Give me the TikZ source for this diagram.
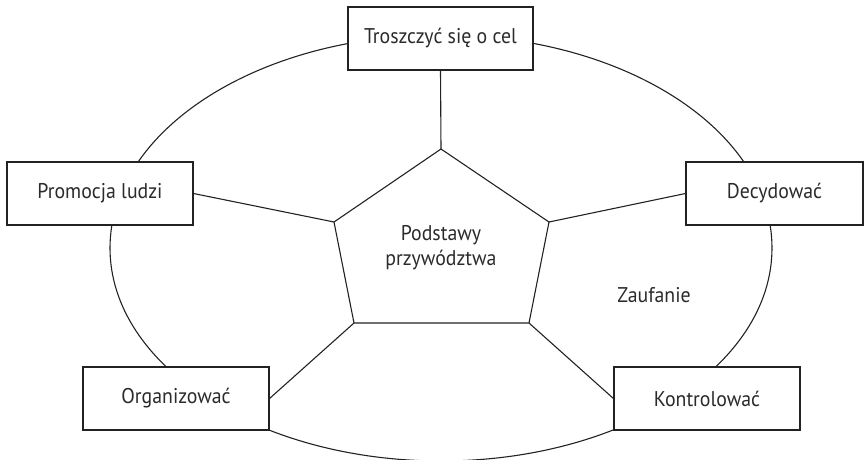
\documentclass[tikz,border=0pt]{standalone}
\usepackage{fontspec}
\setmainfont[FakeStretch=0.93]{PT Sans}
\definecolor{ink}{HTML}{222222}
\definecolor{txt}{HTML}{2B2B2B}
\begin{document}
\begin{tikzpicture}[x=1pt,y=-1pt,
  line width=1.1pt,
  every node/.style={font=\fontsize{21.3}{25}\selectfont, text=txt},
  card/.style={draw=ink, fill=white, minimum width=186pt, minimum height=63pt, inner sep=0pt}]
\useasboundingbox (0,0) rectangle (865,459);
% outer ring
\draw[ink] (441,248) ellipse [x radius=331, y radius=213];
% centre pentagon corners
\coordinate (pt) at (441,149);
\coordinate (pl) at (334,222);
\coordinate (pr) at (549,222);
\coordinate (pbl) at (354,323);
\coordinate (pbr) at (529,323);
\draw[ink, line join=miter] (pt) -- (pr) -- (pbr) -- (pbl) -- (pl) -- cycle;
\node[align=center] (core) at (441,247.5) {Podstawy\\przywództwa};
% outer cards
\node[card, minimum width=185pt] (cel) at (440.5,38.5) {Troszczyć się o cel};
\node[card] (prom) at (100,193.5) {Promocja ludzi};
\node[card, minimum width=177pt] (dec) at (774.5,193.5) {Decydować};
\node[card] (org) at (176,398.5) {Organizować};
\node[card] (kon) at (707,398.5) {Kontrolować};
\node (trust) at (654,295) {Zaufanie};
% spokes
\draw[ink] (pt) -- (cel.south);
\draw[ink] (pl) -- (prom.east);
\draw[ink] (pr) -- (dec.west);
\draw[ink] (pbl) -- (org.east);
\draw[ink] (pbr) -- (kon.west);
\end{tikzpicture}
\end{document}
